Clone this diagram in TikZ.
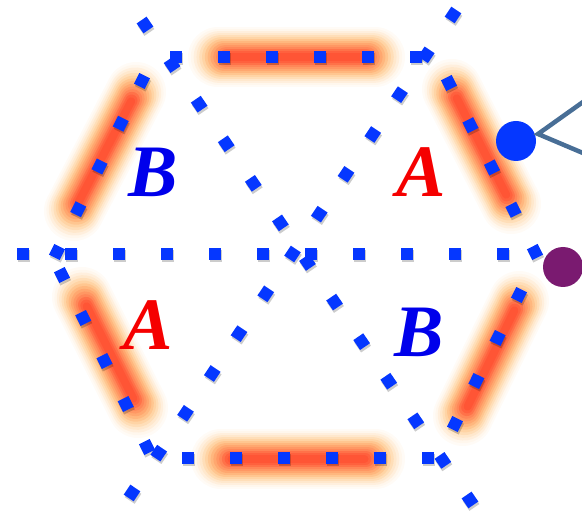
\documentclass[tikz,border=0pt]{standalone}
\usepackage{fontspec}
\setmainfont{Liberation Serif}
\definecolor{dotblue}{RGB}{5,55,255}
\definecolor{glowred}{RGB}{255,50,30}
\definecolor{glowamber}{RGB}{255,150,25}
\definecolor{labblue}{RGB}{0,0,235}
\definecolor{labred}{RGB}{245,0,0}
\definecolor{leadblue}{RGB}{72,110,150}
\definecolor{dotpurple}{RGB}{122,26,112}
\tikzset{
  every picture/.style={line join=round, line cap=round},
  sqline/.style={dotblue, line width=12pt, line cap=butt, dash pattern=on 12pt off #1, shorten <=-6pt, shorten >=-6.2pt},
  sqshade/.style={black, opacity=0.2, line width=12pt, line cap=butt, dash pattern=on 12pt off #1, shorten <=-6pt, shorten >=-6.2pt},
  letter/.style={font=\fontsize{74}{74}\selectfont\bfseries\itshape, inner sep=0pt, anchor=base},
  bigdot/.style={circle, fill=#1, minimum size=40pt, inner sep=0pt},
}

\begin{document}
\begin{tikzpicture}[x=1pt,y=-1pt]
\useasboundingbox (0,0) rectangle (582,513);
\clip (0,0) rectangle (582,513);
% ends of the glowing hexagon sides
\coordinate (gt0) at (218,57);  \coordinate (gt1) at (375,57);
\coordinate (gb0) at (221,459); \coordinate (gb1) at (375,459);
\coordinate (gul0) at (74,211); \coordinate (gul1) at (136,92);
\coordinate (gur0) at (452,89); \coordinate (gur1) at (511,204);
\coordinate (gll0) at (82,297); \coordinate (gll1) at (138,408);
\coordinate (glr0) at (519,301); \coordinate (glr1) at (463,416);
% ends of the square-dotted lines
\coordinate (h0) at (23,254);   \coordinate (h1) at (503,254);
\coordinate (t0) at (176,57);   \coordinate (t1) at (416,57);
\coordinate (b0) at (188,458);  \coordinate (b1) at (428,458);
\coordinate (d0) at (145,25);   \coordinate (d1) at (470,500);
\coordinate (e0) at (453,15);   \coordinate (e1) at (132,493);
\coordinate (ul0) at (57,252);  \coordinate (ul1) at (142,81);
\coordinate (ur0) at (449,83);  \coordinate (ur1) at (535,252);
\coordinate (ll0) at (62,275);  \coordinate (ll1) at (147,447);
\coordinate (lr0) at (519,295); \coordinate (lr1) at (455,424);

% glow
\foreach \p/\q in {gt0/gt1,gb0/gb1,gul0/gul1,gur0/gur1,gll0/gll1,glr0/glr1}{
  \foreach \w/\c/\o in {60/glowamber/0.04,56/glowamber/0.04,52/glowamber/0.08,48/glowamber/0.08,44/glowamber/0.12,40/glowamber!90!glowred/0.12,36/glowamber!70!glowred/0.15,32/glowamber!50!glowred/0.15,28/glowamber!30!glowred/0.15,24/glowamber!10!glowred/0.15,20/glowred/0.15,16/glowred/0.25,12/glowred/0.25,8/glowred/0.25}{
    \pgfmathsetmacro\s{(60-\w)/5}
    \draw[line width=\w pt,\c,opacity=\o,shorten <=\s pt,shorten >=\s pt] (\p) -- (\q);
  }
}

% dotted lines
\foreach \p/\q/\g in {h0/h1/36,t0/t1/36,b0/b1/36,d0/d1/35.96,e0/e1/35.98,ul0/ul1/35.74,ur0/ur1/35.4,ll0/ll1/35.97,lr0/lr1/36}
  \draw[sqshade=\g pt,transform canvas={shift={(1pt,-2.5pt)}}] (\p) -- (\q);
\foreach \p/\q/\g in {h0/h1/36,t0/t1/36,b0/b1/36,d0/d1/35.96,e0/e1/35.98,ul0/ul1/35.74,ur0/ur1/35.4,ll0/ll1/35.97,lr0/lr1/36}
  \draw[sqline=\g pt] (\p) -- (\q);

% dots and lead
\node[bigdot=dotblue] (qdot) at (516,141) {};
\node[bigdot=dotpurple] (pdot) at (563,267) {};
\coordinate (tip) at (538,134);
\coordinate (armup) at (590,97);
\coordinate (armdn) at (590,156);
\draw[leadblue,line width=4.5pt,line cap=butt,line join=miter] (armup) -- (tip) -- (armdn);

% sublattice labels
\node[letter,labblue] (bup) at (153,197) {B};
\node[letter,labred] (aup) at (421,197) {A};
\node[letter,labred] (alow) at (148,350) {A};
\node[letter,labblue] (blow) at (419,357) {B};
\end{tikzpicture}
\end{document}
